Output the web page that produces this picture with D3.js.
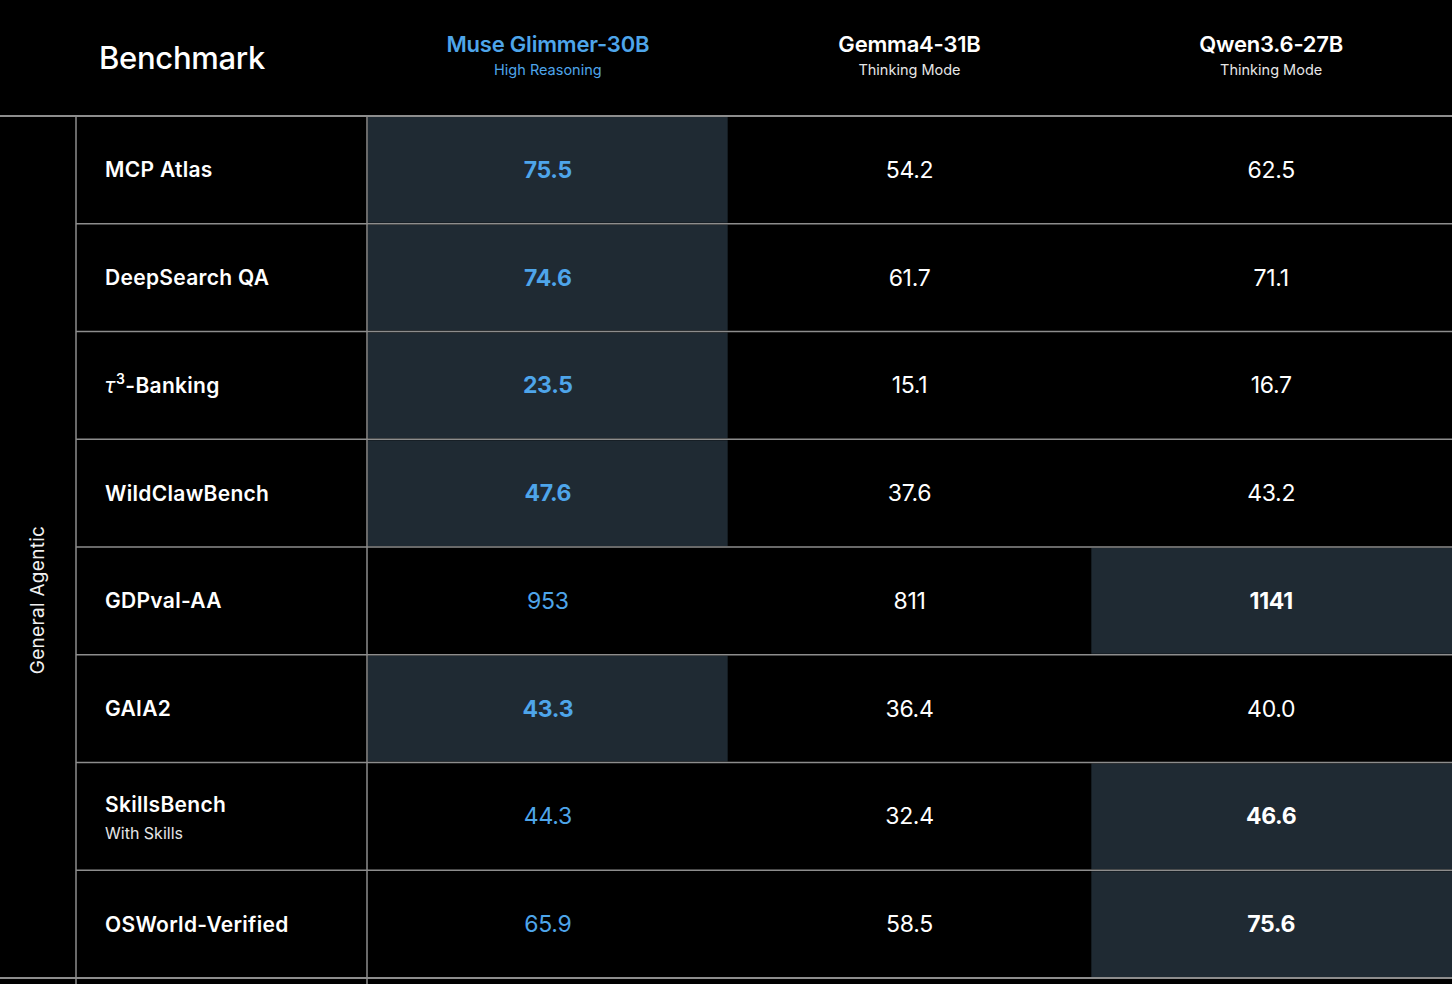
<!DOCTYPE html>
<html>
<head>
<meta charset="utf-8">
<script src="https://cdn.jsdelivr.net/npm/d3@7"></script>
<style>
  html, body { margin: 0; padding: 0; background: #000; }
  svg { display: block; }
  text { font-family: Inter, "Noto Sans", sans-serif; }
</style>
</head>
<body>
<script>
// table data
const category = 'General Agentic'
const benchmarks = ['MCP Atlas', 'DeepSearch QA', 'τ³-Banking', 'WildClawBench', 'GDPval-AA', 'GAIA2', 'SkillsBench', 'OSWorld-Verified']
const benchNotes = ['', '', '', '', '', '', 'With Skills', '']
const decimals = [1, 1, 1, 1, 0, 1, 1, 1]
const models = ['Muse Glimmer-30B', 'Gemma4-31B', 'Qwen3.6-27B']
const modelNotes = ['High Reasoning', 'Thinking Mode', 'Thinking Mode']
const muse = [75.5, 74.6, 23.5, 47.6, 953, 43.3, 44.3, 65.9]
const gemma = [54.2, 61.7, 15.1, 37.6, 811, 36.4, 32.4, 58.5]
const qwen = [62.5, 71.1, 16.7, 43.2, 1141, 40.0, 46.6, 75.6]

const W = 1452, H = 984
const blue = '#4ea5ea', hl = '#1f2a33', line = '#8d8d8d'

const svg = d3.select('body').append('svg').attr('width', W).attr('height', H)

const y = d3.scaleBand().domain(benchmarks).range([116, 978])
const x = d3.scaleBand().domain(models).range([367, W])
const catX = 76

const series = [muse, gemma, qwen]
const cells = []
benchmarks.forEach((b, i) => {
	const vals = series.map(s => s[i])
	const best = d3.max(vals)
	models.forEach((m, j) => {
		cells.push({ b, m, i, j, v: vals[j], best: vals[j] === best })
	})
})

// highlighted (best) cells
svg.selectAll('rect.hl')
	.data(cells.filter(d => d.best))
	.enter()
	.append('rect')
	.attr('class', 'hl')
	.attr('x', d => x(d.m) + 1)
	.attr('y', d => y(d.b) + 1)
	.attr('width', d => x.bandwidth() - (d.j === 2 ? 0 : 2))
	.attr('height', y.bandwidth() - 2)
	.attr('fill', hl)

// grid lines
svg.selectAll('line.row')
	.data(benchmarks.slice(1))
	.enter()
	.append('line')
	.attr('x1', catX).attr('x2', W)
	.attr('y1', d => y(d)).attr('y2', d => y(d))
	.attr('stroke', line).attr('stroke-width', 1.5)

svg.selectAll('line.edge')
	.data(y.range())
	.enter()
	.append('line')
	.attr('x1', 0).attr('x2', W)
	.attr('y1', d => d).attr('y2', d => d)
	.attr('stroke', line).attr('stroke-width', 2)

svg.selectAll('line.col')
	.data([catX, x.range()[0]])
	.enter()
	.append('line')
	.attr('x1', d => d).attr('x2', d => d)
	.attr('y1', y.range()[0]).attr('y2', H)
	.attr('stroke', line).attr('stroke-width', 1.5)

// header
svg.append('text')
	.attr('x', 99).attr('y', 57)
	.attr('dominant-baseline', 'central')
	.attr('fill', '#fff')
	.attr('font-size', 31).attr('font-weight', 500)
	.attr('letter-spacing', -0.3)
	.text('Benchmark')

const head = svg.selectAll('g.head')
	.data(models)
	.enter()
	.append('g')
	.attr('transform', d => `translate(${x(d) + x.bandwidth() / 2},0)`)

head.append('text')
	.attr('y', 44)
	.attr('text-anchor', 'middle').attr('dominant-baseline', 'central')
	.attr('fill', (d, i) => i === 0 ? blue : '#fff')
	.attr('font-size', 22).attr('font-weight', 600)
	.attr('letter-spacing', -0.2)
	.text(d => d)

head.append('text')
	.attr('y', 69)
	.attr('text-anchor', 'middle').attr('dominant-baseline', 'central')
	.attr('fill', (d, i) => i === 0 ? blue : '#e6e6e6')
	.attr('font-size', 14.5)
	.text((d, i) => modelNotes[i])

// category label
svg.append('text')
	.attr('transform', `translate(37,${(y.range()[0] + y.range()[1]) / 2 + 53}) rotate(-90)`)
	.attr('text-anchor', 'middle').attr('dominant-baseline', 'central')
	.attr('fill', '#f0f0f0')
	.attr('font-size', 19)
	.attr('letter-spacing', 0.3)
	.text(category)

// benchmark names
const names = svg.selectAll('text.name')
	.data(benchmarks)
	.enter()
	.append('text')
	.attr('x', 105)
	.attr('y', (d, i) => y(d) + y.bandwidth() / 2 + (benchNotes[i] ? -12 : 0))
	.attr('dominant-baseline', 'central')
	.attr('fill', '#fff')
	.attr('font-size', 21).attr('font-weight', 600)
	.attr('letter-spacing', 0.3)

names.each(function (d) {
	const t = d3.select(this)
	if (d.startsWith('τ')) {
		t.append('tspan').attr('font-style', 'italic').attr('font-weight', 400).text('τ')
		t.append('tspan').attr('font-size', 14).attr('dy', -7).attr('dx', 1).text('3')
		t.append('tspan').attr('dy', 7).text(d.slice(2))
	} else {
		t.text(d)
	}
})

svg.selectAll('text.note')
	.data(benchmarks.filter((d, i) => benchNotes[i]))
	.enter()
	.append('text')
	.attr('x', 105)
	.attr('y', d => y(d) + y.bandwidth() / 2 + 17)
	.attr('dominant-baseline', 'central')
	.attr('fill', '#e6e6e6')
	.attr('font-size', 16)
	.text(d => benchNotes[benchmarks.indexOf(d)])

// values
svg.selectAll('text.val')
	.data(cells)
	.enter()
	.append('text')
	.attr('x', d => x(d.m) + x.bandwidth() / 2)
	.attr('y', d => y(d.b) + y.bandwidth() / 2)
	.attr('text-anchor', 'middle').attr('dominant-baseline', 'central')
	.attr('fill', d => d.j === 0 ? blue : '#fff')
	.attr('font-size', 23)
	.attr('font-weight', d => d.best ? 700 : 400)
	.attr('letter-spacing', -0.3)
	.text(d => d3.format(`.${decimals[d.i]}f`)(d.v))
</script>
</body>
</html>
